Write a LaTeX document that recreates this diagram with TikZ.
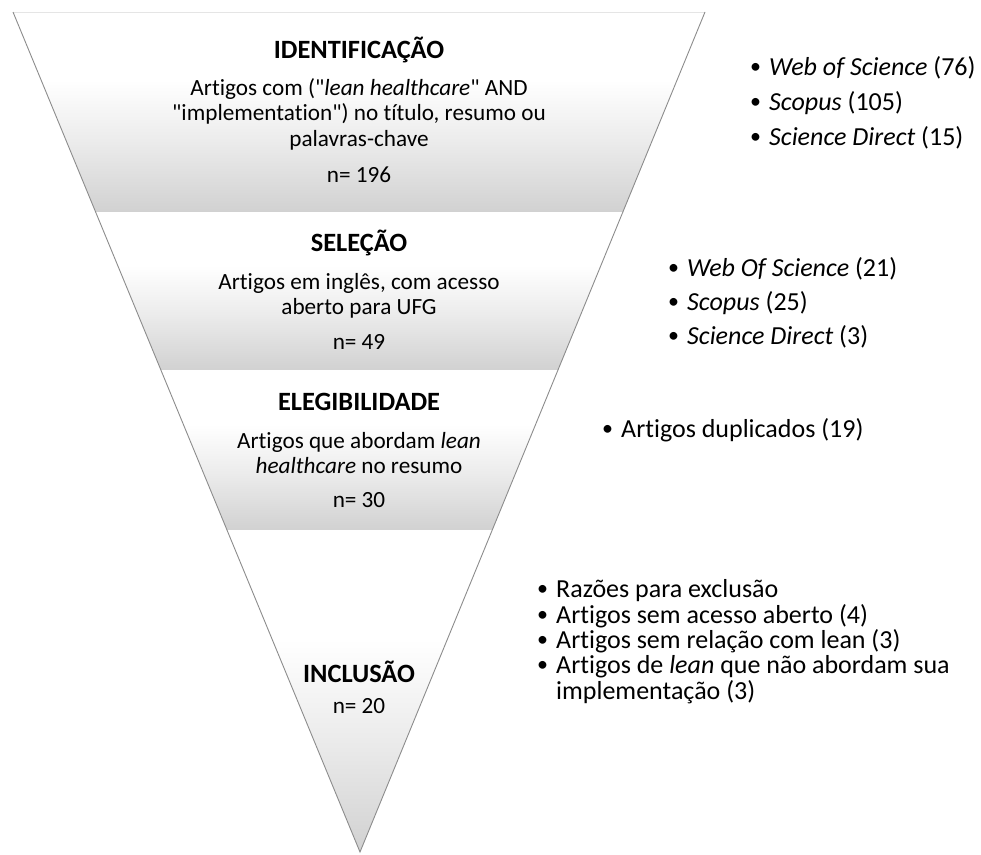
\documentclass[tikz,border=0pt]{standalone}
\usepackage{fontspec}
\setmainfont{Carlito}[Ligatures={CommonOff,TeXOff}]
\pgfdeclareverticalshading{band}{100bp}{color(0bp)=(black!18); color(25bp)=(black!18); color(42bp)=(black!8); color(58bp)=(white); color(100bp)=(white)}
\tikzset{
  head/.style={font=\fontsize{26.4}{31}\selectfont\bfseries, anchor=base, inner sep=0pt},
  body/.style={font=\fontsize{23.2}{27}\selectfont, anchor=base, inner sep=0pt},
  item/.style={font=\fontsize{26}{31}\selectfont, anchor=base west, inner sep=0pt},
  bandfill/.style={shading=band},
  edge/.style={draw=black!45, line width=0.9pt},
}
\newcommand{\bul}{\makebox[19pt][l]{\raisebox{1.6pt}{\fontsize{22}{22}\selectfont •}}}
\begin{document}
\begin{tikzpicture}[x=1pt,y=-1pt]
\useasboundingbox (0,0) rectangle (981,854);
% funnel corners
\coordinate (a0) at (13,12);    \coordinate (b0) at (705,12);
\coordinate (a1) at (95.6,212); \coordinate (b1) at (622.9,212);
\coordinate (a2) at (160.9,370);\coordinate (b2) at (558.0,370);
\coordinate (a3) at (227.0,530);\coordinate (b3) at (492.2,530);
\coordinate (ap) at (360,852);
% bands
\shade[bandfill] (a0) -- (b0) -- (b1) -- (a1) -- cycle;
\shade[bandfill] (a1) -- (b1) -- (b2) -- (a2) -- cycle;
\shade[bandfill] (a2) -- (b2) -- (b3) -- (a3) -- cycle;
\shade[bandfill] (a3) -- (b3) -- (ap) -- cycle;
% edges
\draw[draw=black!10, line width=0.8pt] (a0) -- (b0);
\draw[edge] (a0) -- (ap) -- (b0);
% texts in funnel
\node[head] (h1) at (359,58) {IDENTIFICAÇÃO};
\node[body] (t11) at (359,95) {Artigos com ("\textit{lean healthcare}" AND};
\node[body] (t12) at (359,120) {"implementation") no título, resumo ou};
\node[body] (t13) at (359,146) {palavras-chave};
\node[body] (n1) at (359,182) {n= 196};
\node[head] (h2) at (359,251) {SELEÇÃO};
\node[body] (t21) at (359,289) {Artigos em inglês, com acesso};
\node[body] (t22) at (359,314) {aberto para UFG};
\node[body] (n2) at (359,349) {n= 49};
\node[head] (h3) at (359,410) {ELEGIBILIDADE};
\node[body] (t31) at (359,448) {Artigos que abordam \textit{lean}};
\node[body] (t32) at (359,473) {\textit{healthcare} no resumo};
\node[body] (n3) at (359,507) {n= 30};
\node[head] (h4) at (359,682) {INCLUSÃO};
\node[body] (n4) at (359,713) {n= 20};
% side lists
\node[item] (l11) at (750,75) {\bul\textit{Web of Science} (76)};
\node[item] (l12) at (750,110) {\bul\textit{Scopus} (105)};
\node[item] (l13) at (750,145) {\bul\textit{Science Direct} (15)};
\node[item] (l21) at (668,276) {\bul\textit{Web Of Science} (21)};
\node[item] (l22) at (668,310) {\bul\textit{Scopus} (25)};
\node[item] (l23) at (668,344) {\bul\textit{Science Direct} (3)};
\node[item] (l31) at (602,437) {\bul Artigos duplicados (19)};
\node[item] (l41) at (537,597) {\bul Razões para exclusão};
\node[item] (l42) at (537,623) {\bul Artigos sem acesso aberto (4)};
\node[item] (l43) at (537,648) {\bul Artigos sem relação com lean (3)};
\node[item] (l44) at (537,673) {\bul Artigos de \textit{lean} que não abordam sua};
\node[item] (l45) at (556,699) {implementação (3)};
\end{tikzpicture}
\end{document}
